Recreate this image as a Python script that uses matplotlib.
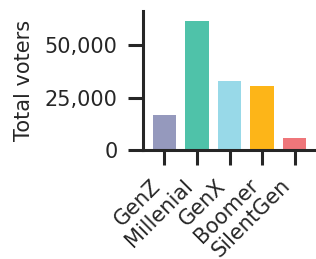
import matplotlib
matplotlib.use("Agg")
import matplotlib.pyplot as plt
from matplotlib.ticker import FuncFormatter

categories = ["GenZ", "Millenial", "GenX", "Boomer", "SilentGen"]
voters = [16700, 61600, 32900, 30300, 5600]
colors = ["#9599bd", "#4fc2a9", "#98d9e8", "#fdb518", "#ef767a"]
yticks = [0, 25000, 50000]

W, H = 316, 259
fig = plt.figure(figsize=(W / 100, H / 100), dpi=100)
ax = fig.add_axes([143 / W, 1 - 150 / H, 1 - 143 / W, (150 - 11) / H])

x = list(range(len(categories)))
ax.bar(x, voters, width=0.72, color=colors)
ax.set_xlim(-0.66, 4.66)
ax.set_ylim(0, 66200)
ax.set_xticks(x)
ax.set_xticklabels(categories, rotation=45, ha="right", rotation_mode="default")
ax.set_yticks(yticks)
ax.yaxis.set_major_formatter(FuncFormatter(lambda v, p: f"{int(v):,}"))

tc = "#262626"
for s in ["top", "right"]:
    ax.spines[s].set_visible(False)
for s in ["left", "bottom"]:
    ax.spines[s].set_linewidth(2.2)
    ax.spines[s].set_color(tc)
ax.tick_params(axis="both", length=10.8, width=2.2, color=tc, labelcolor=tc,
               labelsize=15, pad=7.5)
ax.set_ylabel("Total voters", fontsize=15, color=tc, labelpad=8)

fig.savefig("out.png", dpi=100)
